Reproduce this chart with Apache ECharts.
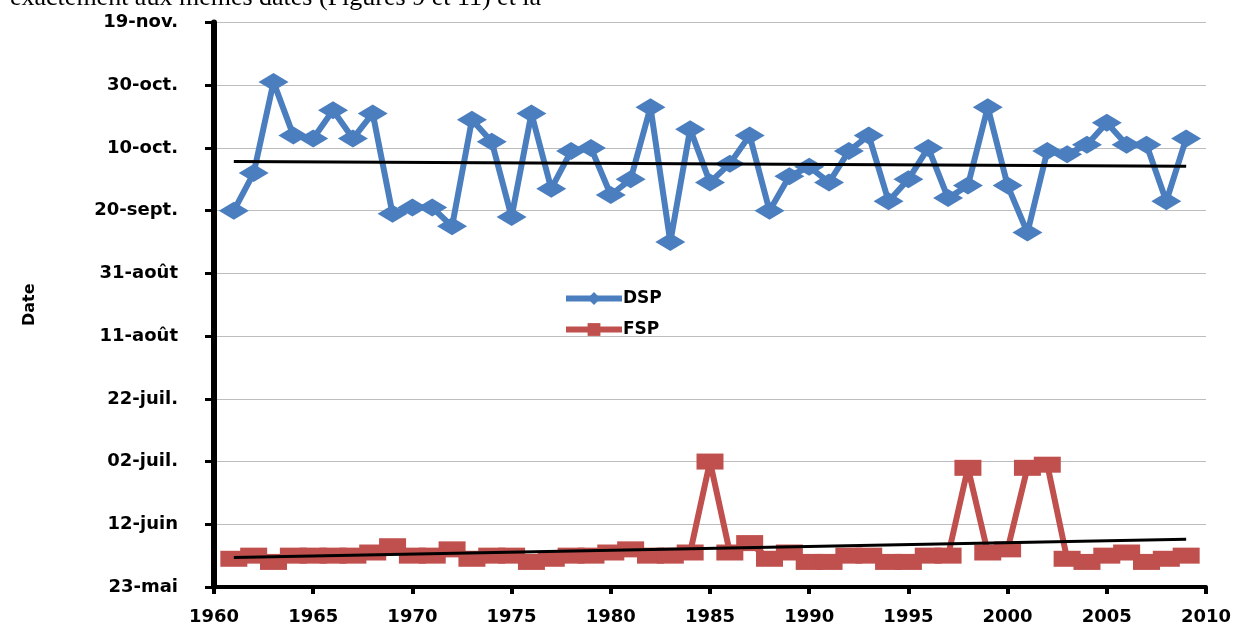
<!DOCTYPE html>
<html>
<head>
<meta charset="utf-8">
<script src="https://cdn.jsdelivr.net/npm/echarts@6/dist/echarts.min.js"></script>
<style>
  html, body { margin: 0; padding: 0; background: #fff; }
  #chart { width: 1239px; height: 626px; }
</style>
</head>
<body>
<div id="chart"></div>
<script>
// Years of observation
const years = [
  1961, 1962, 1963, 1964, 1965, 1966, 1967, 1968, 1969, 1970,
  1971, 1972, 1973, 1974, 1975, 1976, 1977, 1978, 1979, 1980,
  1981, 1982, 1983, 1984, 1985, 1986, 1987, 1988, 1989, 1990,
  1991, 1992, 1993, 1994, 1995, 1996, 1997, 1998, 1999, 2000,
  2001, 2002, 2003, 2004, 2005, 2006, 2007, 2008, 2009
];

// DSP dates, in days after 23 May
const dspDays = [
  120, 132, 161, 144, 143, 152, 143, 151, 119, 121,
  121, 115, 149, 142, 118, 151, 127, 139, 140, 125,
  130, 153, 110, 146, 129, 135, 144, 120, 131, 134,
  129, 139, 144, 123, 130, 140, 124, 128, 153, 128,
  113, 139, 138, 141, 148, 141, 141, 123, 143
];

// FSP dates, in days after 23 May
const fspDays = [
  9, 10, 8, 10, 10, 10, 10, 11, 13, 10,
  10, 12, 9, 10, 10, 8, 9, 10, 10, 11,
  12, 10, 10, 11, 40, 11, 14, 9, 11, 8,
  8, 10, 10, 8, 8, 10, 10, 38, 11, 12,
  38, 39, 9, 8, 10, 11, 8, 9, 10
];

// Date labels, one every 20 days from 23 May
const dateTicks = [
  '23-mai', '12-juin', '02-juil.', '22-juil.', '11-août',
  '31-août', '20-sept.', '10-oct.', '30-oct.', '19-nov.'
];

const caption = 'exactement aux mêmes dates (Figures 9 et 11) et la';

// Least-squares linear trend, returned as its two end points
function trend(xs, ys) {
  const n = xs.length;
  let sx = 0, sy = 0, sxx = 0, sxy = 0;
  for (let i = 0; i < n; i++) {
    sx += xs[i]; sy += ys[i];
    sxx += xs[i] * xs[i]; sxy += xs[i] * ys[i];
  }
  const b = (n * sxy - sx * sy) / (n * sxx - sx * sx);
  const a = (sy - b * sx) / n;
  const x0 = xs[0], x1 = xs[n - 1];
  return [[x0, a + b * x0], [x1, a + b * x1]];
}

const pairs = (ys) => years.map((y, i) => [y, ys[i]]);

const boldFont = {
  fontFamily: '"DejaVu Sans", sans-serif',
  fontWeight: 'bold',
  color: '#000'
};

const chart = echarts.init(document.getElementById('chart'));
chart.setOption({
  animation: false,
  backgroundColor: '#fff',
  graphic: [{
    type: 'text',
    style: {
      x: 10, y: 11,
      text: caption,
      fontFamily: '"Liberation Serif", serif',
      fontSize: 26,
      verticalAlign: 'bottom',
      fill: '#000'
    }
  }],
  grid: { left: 214, right: 33, top: 22.5, bottom: 39, outerBoundsMode: 'none' },
  legend: {
    data: ['DSP', 'FSP'],
    orient: 'vertical',
    left: 558,
    top: 285,
    itemWidth: 56,
    itemHeight: 16,
    itemGap: 14,
    lineStyle: { width: 6 },
    textStyle: Object.assign({ fontSize: 17, padding: [0, 0, 0, -4] }, boldFont)
  },
  xAxis: {
    type: 'value',
    min: 1960,
    max: 2010,
    interval: 5,
    axisLine: { lineStyle: { color: '#000', width: 4 } },
    axisTick: { length: 7, lineStyle: { color: '#000', width: 4 } },
    axisLabel: Object.assign({
      fontSize: 18,
      margin: 21,
      formatter: (v) => String(v)
    }, boldFont),
    splitLine: { show: false }
  },
  yAxis: {
    type: 'value',
    min: 0,
    max: 180,
    interval: 20,
    name: 'Date',
    nameLocation: 'middle',
    nameGap: 176,
    nameRotate: 90,
    nameTextStyle: Object.assign({ fontSize: 16 }, boldFont),
    axisLine: { show: true, lineStyle: { color: '#000', width: 6 } },
    axisTick: { show: true, length: 9, lineStyle: { color: '#000', width: 3 } },
    axisLabel: Object.assign({
      fontSize: 18,
      margin: 36,
      formatter: (v) => dateTicks[Math.round(v / 20)]
    }, boldFont),
    splitLine: { show: true, lineStyle: { color: '#bdbdbd', width: 1 } }
  },
  series: [
    {
      name: 'DSP',
      type: 'line',
      data: pairs(dspDays),
      symbol: 'diamond',
      symbolSize: [30, 18],
      lineStyle: { color: '#4a7ebf', width: 6 },
      itemStyle: { color: '#4a7ebf' },
      z: 2
    },
    {
      name: 'FSP',
      type: 'line',
      data: pairs(fspDays),
      symbol: 'rect',
      symbolSize: [27, 16],
      lineStyle: { color: '#c0504d', width: 6 },
      itemStyle: { color: '#c0504d' },
      z: 2
    },
    {
      name: 'Tendance DSP',
      type: 'line',
      data: trend(years, dspDays),
      showSymbol: false,
      symbol: 'none',
      lineStyle: { color: '#000', width: 3 },
      silent: true,
      z: 3
    },
    {
      name: 'Tendance FSP',
      type: 'line',
      data: trend(years, fspDays),
      showSymbol: false,
      symbol: 'none',
      lineStyle: { color: '#000', width: 3 },
      silent: true,
      z: 3
    }
  ]
});
</script>
</body>
</html>
